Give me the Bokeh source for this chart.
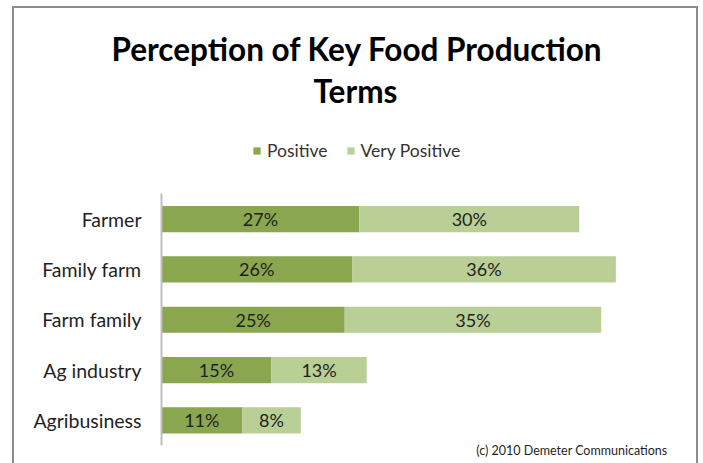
from bokeh.plotting import figure
from bokeh.models import ColumnDataSource, Range1d, Legend, LegendItem, Title, FixedTicker
from bokeh.core.properties import value
from bokeh.embed import file_html
from bokeh.resources import INLINE

categories = ["Farmer", "Family farm", "Farm family", "Ag industry", "Agribusiness"]
positive = [27, 26, 25, 15, 11]
very_positive = [30, 36, 35, 13, 8]
series_names = ["Positive", "Very Positive"]
colors = ["#8aa64f", "#b9cf96"]

FONT = "Lato"
n = len(categories)
ypos = [n - 1 - i for i in range(n)]  # first category on top

src = ColumnDataSource(dict(
    y=ypos,
    cat=categories,
    p_left=[0] * n,
    p_right=positive,
    v_left=positive,
    v_right=[a + b for a, b in zip(positive, very_positive)],
    p_mid=[a / 2 for a in positive],
    v_mid=[a + b / 2 for a, b in zip(positive, very_positive)],
    p_lab=[f"{a}%" for a in positive],
    v_lab=[f"{b}%" for b in very_positive],
))

# extra room above the bars (inside the frame) holds the legend
p = figure(width=686, height=457, output_backend="svg", toolbar_location=None,
           y_range=Range1d(-0.5, n - 0.5 + 1.66), x_range=Range1d(0, 70),
           min_border_left=147, min_border_right=26, min_border_top=102, min_border_bottom=20,
           margin=(6, 0, 0, 12))
p.styles = {"border-top": "2px solid #8c8c8c", "border-left": "2px solid #8c8c8c",
            "border-right": "2px solid #8c8c8c"}
p.outline_line_color = None
p.background_fill_color = "white"
p.border_fill_color = "white"

r1 = p.hbar(y="y", left="p_left", right="p_right", height=0.52, color=colors[0], source=src, line_color=None)
r2 = p.hbar(y="y", left="v_left", right="v_right", height=0.52, color=colors[1], source=src, line_color=None)

for xcol, lcol in (("p_mid", "p_lab"), ("v_mid", "v_lab")):
    p.text(x=xcol, y="y", text=lcol, source=src, text_align="center", text_baseline="middle",
           text_font=value(FONT), text_font_size="18px", text_color="#1f1f1f")

p.xaxis.visible = False
p.xgrid.visible = False
p.ygrid.visible = False
ax = p.yaxis[0]
ax.ticker = FixedTicker(ticks=ypos)
ax.major_label_overrides = {y: c for y, c in zip(ypos, categories)}
ax.bounds = (-0.5, n - 0.5)
ax.axis_line_color = "#bfbfbf"
ax.axis_line_width = 2
ax.major_tick_line_color = None
ax.minor_tick_line_color = None
ax.major_label_standoff = 14
ax.major_label_text_font = FONT
ax.major_label_text_font_size = "19.5px"
ax.major_label_text_color = "#1f1f1f"

legend = Legend(items=[LegendItem(label=series_names[0], renderers=[r1]),
                       LegendItem(label=series_names[1], renderers=[r2])],
                orientation="horizontal", location=(91, 284),
                label_text_font=FONT, label_text_font_size="17.5px", label_text_color="#333333",
                glyph_width=9, glyph_height=9, label_standoff=6, spacing=18,
                border_line_color=None, background_fill_alpha=0, margin=0, padding=0)
p.add_layout(legend, "center")

p.add_layout(Title(text="(c) 2010 Demeter Communications", align="right", text_font=FONT,
                   text_font_size="12.5px", text_font_style="normal", text_color="#1f1f1f",
                   offset=7, standoff=-6, vertical_align="top"), "below")
p.add_layout(Title(text="Terms", align="left", offset=152, text_font=FONT, text_font_size="31.5px",
                   text_font_style="bold", text_color="black", standoff=2), "above")
p.add_layout(Title(text="Perception of Key Food Production", align="left", offset=-50, text_font=FONT,
                   text_font_size="31.5px", text_font_style="bold", text_color="black", standoff=2), "above")

open("out.html", "w").write(file_html(p, INLINE))
